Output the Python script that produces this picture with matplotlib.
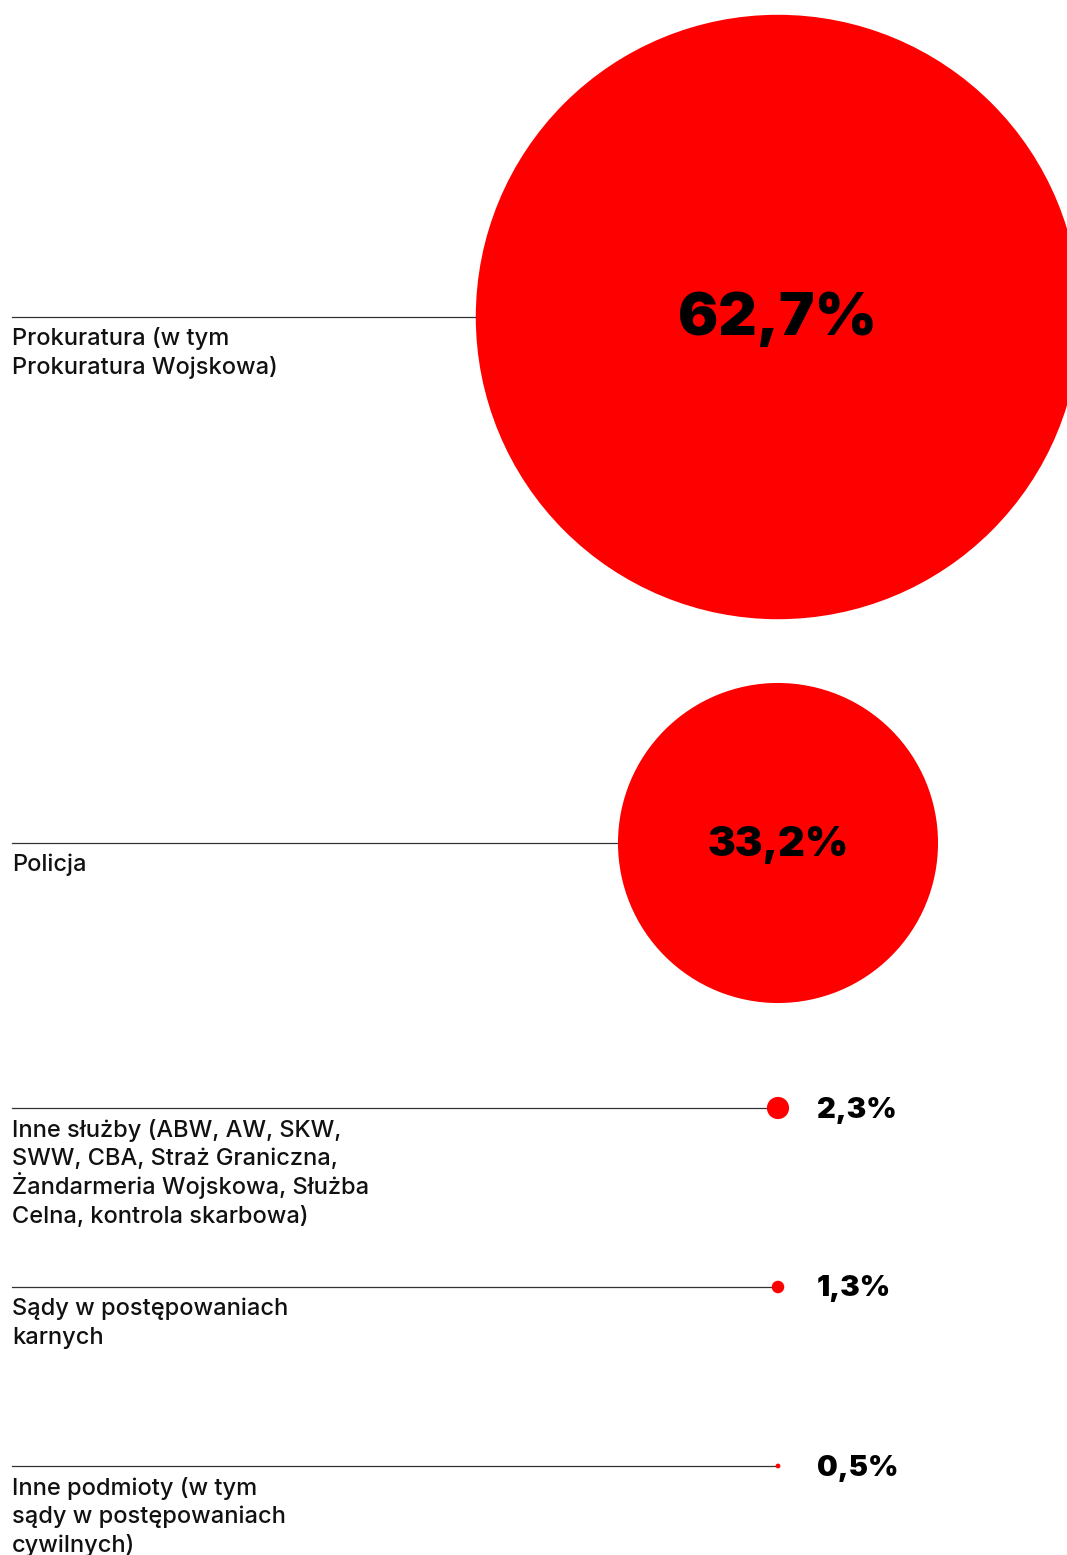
import matplotlib.pyplot as plt
from matplotlib.patches import Circle

red = '#FF0000'
line_color = '#333333'

labels = [
    'Prokuratura (w tym\nProkuratura Wojskowa)',
    'Policja',
    'Inne służby (ABW, AW, SKW,\nSWW, CBA, Straż Graniczna,\nŻandarmeria Wojskowa, Służba\nCelna, kontrola skarbowa)',
    'Sądy w postępowaniach\nkarnych',
    'Inne podmioty (w tym\nsądy w postępowaniach\ncywilnych)',
]
values = [62.7, 33.2, 2.3, 1.3, 0.5]
value_labels = ['62,7%', '33,2%', '2,3%', '1,3%', '0,5%']

# layout in pixels
W, H = 1067, 1555
cx = 778
row_y = [317, 843, 1108, 1287, 1466]
px_per_unit = 4.82
line_h = 28.7

fig = plt.figure(figsize=(W / 100, H / 100), dpi=100)
ax = fig.add_axes([0, 0, 1, 1])
ax.set_xlim(0, W)
ax.set_ylim(H, 0)
ax.set_aspect('equal')
ax.axis('off')

for lab, v, vl, y in zip(labels, values, value_labels, row_y):
    r = v * px_per_unit
    ax.plot([12, cx - r], [y, y], color=line_color, lw=0.9, zorder=1)
    ax.add_patch(Circle((cx, y), r, color=red, lw=0, zorder=2))
    for i, part in enumerate(lab.split('\n')):
        ax.text(12, y + 28.5 + i * line_h, part, ha='left', va='baseline',
                fontsize=17, family='Inter', weight='medium', color='#111111')
    if r > 50:
        fs = 43 if r > 200 else 30
        ax.text(cx, y + 2, vl, ha='center', va='center', fontsize=fs,
                family='Inter', weight='black', color='black', zorder=3)
    else:
        ax.text(817, y + 2, vl, ha='left', va='center', fontsize=21,
                family='Inter', weight='black', color='black', zorder=3)

fig.savefig('out.png', dpi=100)
